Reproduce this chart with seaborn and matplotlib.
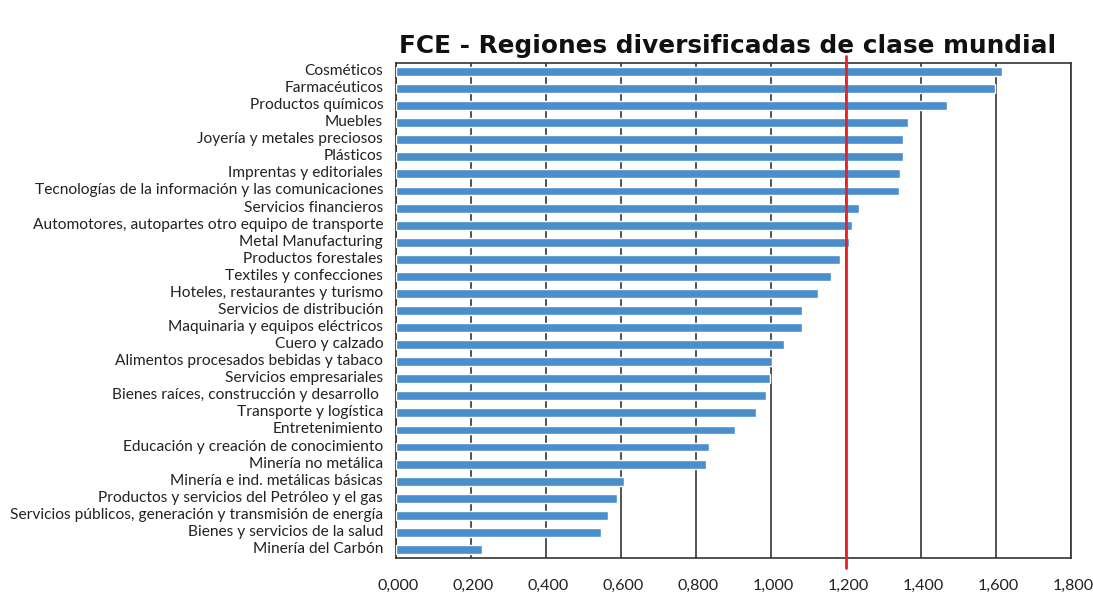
import numpy as np
import pandas as pd
import seaborn as sns
import matplotlib.pyplot as plt
from matplotlib.ticker import FixedLocator, FuncFormatter
from matplotlib.transforms import ScaledTranslation

categories = [
    'Cosméticos',
    'Farmacéuticos',
    'Productos químicos',
    'Muebles',
    'Joyería y metales preciosos',
    'Plásticos',
    'Imprentas y editoriales',
    'Tecnologías de la información y las comunicaciones',
    'Servicios financieros',
    'Automotores, autopartes otro equipo de transporte',
    'Metal Manufacturing',
    'Productos forestales',
    'Textiles y confecciones',
    'Hoteles, restaurantes y turismo',
    'Servicios de distribución',
    'Maquinaria y equipos eléctricos',
    'Cuero y calzado',
    'Alimentos procesados bebidas y tabaco',
    'Servicios empresariales',
    'Bienes raíces, construcción y desarrollo ',
    'Transporte y logística',
    'Entretenimiento',
    'Educación y creación de conocimiento',
    'Minería no metálica',
    'Minería e ind. metálicas básicas',
    'Productos y servicios del Petróleo y el gas',
    'Servicios públicos, generación y transmisión de energía',
    'Bienes y servicios de la salud',
    'Minería del Carbón',
]

values = [1.615, 1.597, 1.469, 1.364, 1.353, 1.351, 1.343, 1.340, 1.234, 1.215,
          1.209, 1.183, 1.161, 1.125, 1.082, 1.082, 1.034, 1.002, 0.998, 0.988,
          0.959, 0.905, 0.836, 0.826, 0.609, 0.591, 0.567, 0.548, 0.230]

threshold = 1.2
x_ticks = [0.0, 0.2, 0.4, 0.6, 0.8, 1.0, 1.2, 1.4, 1.6, 1.8]


def main():
    df = pd.DataFrame({'sector': categories, 'fce': values})

    sns.set_style('white')
    plt.rcParams['font.family'] = ['Lato', 'DejaVu Sans']

    fig = plt.figure(figsize=(10.93, 6.01), dpi=100)
    ax = fig.add_axes([0.362, 0.0716, 0.618, 0.8236])

    sns.barplot(data=df, x='fce', y='sector', orient='h',
                color='#4a8fcc', saturation=1, width=0.52, ax=ax, zorder=3)

    ax.set_xlim(0, 1.8)
    ax.set_ylim(len(categories) - 0.5, -0.5)
    ax.xaxis.set_major_locator(FixedLocator(x_ticks))
    ax.xaxis.set_major_formatter(
        FuncFormatter(lambda v, p: f'{v:.3f}'.replace('.', ',')))
    ax.grid(axis='x', color='#333333', linewidth=1.2, zorder=0)
    ax.set_axisbelow(True)

    for s in ax.spines.values():
        s.set_visible(True)
        s.set_color('#333333')
        s.set_linewidth(1.2)

    ax.tick_params(axis='x', direction='out', length=5, width=1.2,
                   color='#333333', labelsize=11.6, labelcolor='#222222', pad=10)
    ax.tick_params(axis='y', which='major', length=0, labelsize=11.2,
                   labelcolor='#222222', pad=9)
    ax.yaxis.set_minor_locator(FixedLocator(np.arange(-0.5, len(categories), 1)))
    ax.tick_params(axis='y', which='minor', direction='out', length=4,
                   width=1.2, color='#333333')

    # small nudges like the original spreadsheet chart
    shift_x = ScaledTranslation(2 / 100, 0, fig.dpi_scale_trans)
    for lbl in ax.get_xticklabels():
        lbl.set_transform(lbl.get_transform() + shift_x)
    shift_y = ScaledTranslation(0, 2 / 100, fig.dpi_scale_trans)
    for lbl in ax.get_yticklabels():
        lbl.set_transform(lbl.get_transform() + shift_y)

    ax.axvline(threshold, ymin=-0.02, ymax=1.014, color='#e8202a',
               linewidth=2, clip_on=False, zorder=5)

    ax.set_xlabel('')
    ax.set_ylabel('')
    fig.text(0.666, 0.911, 'FCE - Regiones diversificadas de clase mundial',
             ha='center', va='baseline', fontsize=17.8, fontweight='bold',
             family='DejaVu Sans', color='#111111')

    fig.savefig('out.png', dpi=100)


if __name__ == '__main__':
    main()
